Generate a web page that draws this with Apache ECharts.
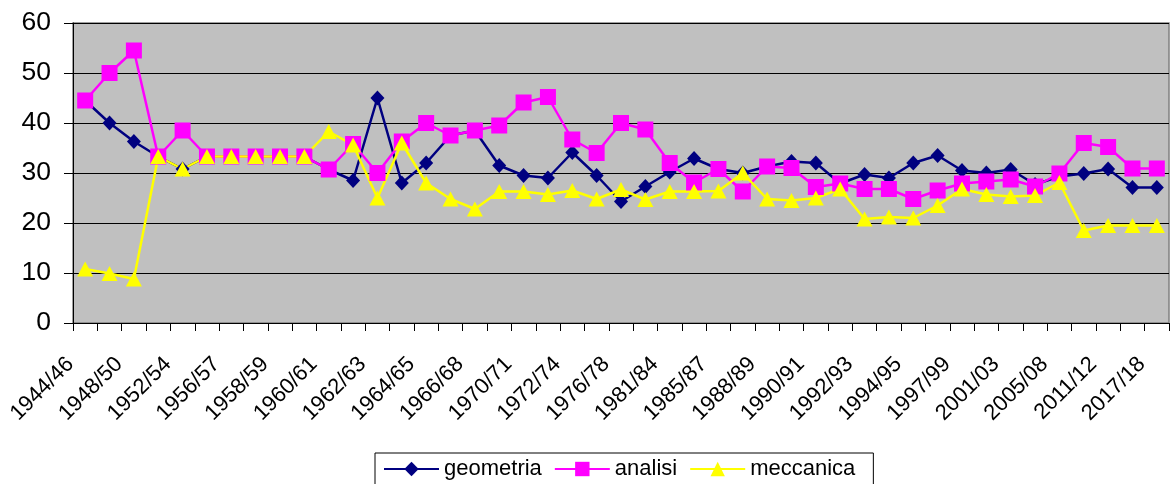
<!DOCTYPE html>
<html><head><meta charset="utf-8">
<script src="https://cdn.jsdelivr.net/npm/echarts@6/dist/echarts.min.js"></script>
<style>html,body{margin:0;padding:0;background:#fff}#c{width:1170px;height:484px}</style>
</head><body><div id="c"></div>
<script>
const categories = ["1944/46","1946/48","1948/50","1950/52","1952/54","1954/56","1956/57","1957/58","1958/59","1959/60","1960/61","1961/62","1962/63","1963/64","1964/65","1965/66","1966/68","1968/70","1970/71","1971/72","1972/74","1974/76","1976/78","1978/81","1981/84","1984/85","1985/87","1987/88","1988/89","1989/90","1990/91","1991/92","1992/93","1993/94","1994/95","1995/97","1997/99","1999/01","2001/03","2003/05","2005/08","2008/11","2011/12","2012/17","2017/18"];
const geometria = [44.5,40.0,36.3,33.3,30.8,33.3,33.3,33.3,33.3,33.3,30.7,28.5,45.0,28.0,32.0,37.5,38.5,31.5,29.5,29.0,34.1,29.5,24.3,27.3,30.2,32.9,30.8,30.0,31.3,32.3,32.0,27.9,29.7,29.0,32.0,33.5,30.5,30.0,30.7,27.7,29.3,29.9,30.8,27.1,27.1];
const analisi = [44.5,50.0,54.5,33.3,38.5,33.3,33.3,33.3,33.3,33.3,30.7,35.8,30.0,36.3,40.0,37.5,38.5,39.5,44.1,45.2,36.7,34.0,40.0,38.7,32.0,28.1,30.8,26.3,31.3,31.0,27.2,27.9,26.8,26.8,24.8,26.5,27.9,28.3,28.7,27.3,29.9,36.0,35.2,30.9,30.9];
const meccanica = [10.8,9.9,8.8,33.3,30.8,33.3,33.3,33.3,33.3,33.3,38.3,35.6,25.0,36.0,28.0,24.8,22.8,26.3,26.3,25.7,26.5,24.8,26.7,24.7,26.3,26.3,26.4,30.0,24.8,24.5,25.0,26.8,20.8,21.2,21.0,23.5,26.8,25.7,25.3,25.5,28.1,18.5,19.5,19.5,19.5];
const yTicks = [0,10,20,30,40,50,60];

const font = "Liberation Sans, Arial, sans-serif";
const chart = echarts.init(document.getElementById('c'));
function ser(name, data, color, symbol, size){
  return {name, type:'line', data, symbol, symbolSize:size, showAllSymbol:true,
    lineStyle:{color, width:2.5}, itemStyle:{color, borderWidth:0}, animation:false};
}
chart.setOption({
  animation:false,
  grid:{left:73, right:1, top:23, bottom:161, show:true, backgroundColor:'#C0C0C0', borderColor:'#808080', borderWidth:1.5},
  legend:{left:375, top:453, data:['geometria','analisi','meccanica'], itemWidth:55, itemHeight:18, itemGap:12,
    borderColor:'#000', borderWidth:1, padding:[5,18,5,8],
    textStyle:{fontFamily:font, fontSize:22, color:'#000'}},
  xAxis:{type:'category', data:categories, boundaryGap:true,
    axisLine:{lineStyle:{color:'#000', width:1}},
    axisTick:{show:true, interval:0, length:8, lineStyle:{color:'#000'}},
    axisLabel:{interval:1, rotate:45, margin:23, padding:[0,21,0,0], fontFamily:font, fontSize:22, color:'#000'}},
  yAxis:{type:'value', min:yTicks[0], max:yTicks[yTicks.length-1], interval:10,
    axisLine:{show:true, lineStyle:{color:'#000'}},
    axisTick:{show:true, length:9, lineStyle:{color:'#000'}},
    splitLine:{lineStyle:{color:'#000', width:1}},
    axisLabel:{margin:22, fontFamily:font, fontSize:26.5, color:'#000'}},
  series:[
    ser('geometria', geometria, '#000080', 'diamond', [14,15]),
    ser('analisi', analisi, '#FF00FF', 'rect', 16),
    ser('meccanica', meccanica, '#FFFF00', 'triangle', [16,15])
  ]
});
</script></body></html>
